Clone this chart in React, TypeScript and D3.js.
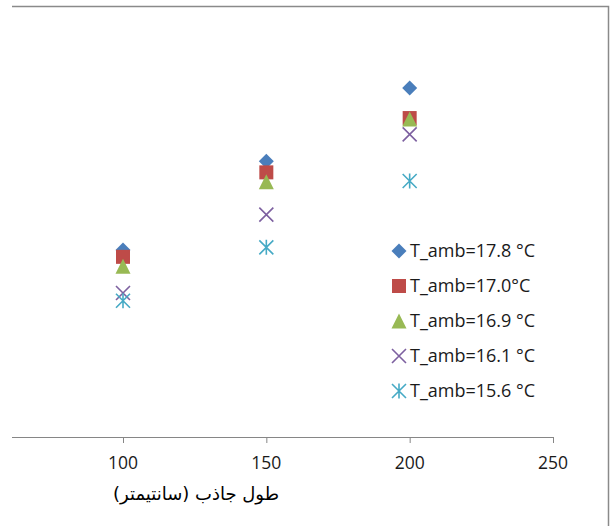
import React from "react";
import * as d3 from "d3";

const lengths = [100, 150, 200];
const xTicks = [100, 150, 200, 250];
const seriesNames = ["T_amb=17.8 °C", "T_amb=17.0°C", "T_amb=16.9 °C", "T_amb=16.1 °C", "T_amb=15.6 °C"];
const s178 = [21.7, 32.0, 40.5];
const s170 = [20.9, 30.7, 37.0];
const s169 = [19.8, 29.6, 36.9];
const s161 = [16.7, 25.8, 35.1];
const s156 = [15.8, 22.0, 29.7];
const seriesValues = [s178, s170, s169, s161, s156];
const colors = ["#4A7EBB", "#BE4B48", "#98B954", "#7D60A0", "#46AAC5"];
const shapes = ["diamond", "square", "triangle", "x", "star"];
const xTitle = "طول جاذب (سانتیمتر)";

function Marker({ shape, color, x, y }: { shape: string; color: string; x: number; y: number }) {
  if (shape === "diamond") {
    const r = 7.5;
    return <path d={`M${x},${y - r}L${x + r},${y}L${x},${y + r}L${x - r},${y}Z`} fill={color} />;
  }
  if (shape === "square") {
    const h = 7;
    return <rect x={x - h} y={y - h} width={2 * h} height={2 * h} fill={color} />;
  }
  if (shape === "triangle") {
    const h = 7.5;
    return <path d={`M${x},${y - h}L${x + h},${y + h}L${x - h},${y + h}Z`} fill={color} />;
  }
  if (shape === "x") {
    const h = 7;
    return (
      <path d={`M${x - h},${y - h}L${x + h},${y + h}M${x + h},${y - h}L${x - h},${y + h}`} stroke={color} strokeWidth={1.6} fill="none" />
    );
  }
  const h = 7;
  return (
    <path
      d={`M${x - h},${y - h}L${x + h},${y + h}M${x + h},${y - h}L${x - h},${y + h}M${x},${y - h - 0.5}L${x},${y + h + 0.5}`}
      stroke={color}
      strokeWidth={1.6}
      fill="none"
    />
  );
}

export default function App() {
  const W = 610;
  const H = 526;
  const axisY = 437;
  const x = d3.scaleLinear().domain([100, 250]).range([123, 553]);
  const y = d3.scaleLinear().domain([0, 50]).range([axisY, 6]);
  const font = "'Open Sans', sans-serif";
  const legendX = 399;
  const legendY0 = 251;
  const legendStep = 35;

  return (
    <svg width={W} height={H} style={{ position: "absolute", left: 0, top: 0, background: "#fff" }}>
      <rect x={0} y={0} width={W} height={H} fill="#fff" />
      {/* frame */}
      <path d={`M12,6.5H608.5V${H}`} stroke="#8a8a8a" strokeWidth={1.5} fill="none" />
      {/* x axis */}
      <line x1={12} x2={x(250)} y1={axisY + 0.5} y2={axisY + 0.5} stroke="#868686" strokeWidth={1} />
      {xTicks.map((t) => (
        <g key={t}>
          <line x1={x(t) + 0.5} x2={x(t) + 0.5} y1={axisY} y2={axisY + 6} stroke="#868686" />
          <text x={x(t)} y={469} textAnchor="middle" fontFamily={font} fontSize={17.5} fill="#1a1a1a">
            {t}
          </text>
        </g>
      ))}
      <text x={196} y={500} textAnchor="middle" direction="rtl" fontFamily="'DejaVu Sans', sans-serif" fontSize={18} fill="#000">
        {xTitle}
      </text>
      {/* points */}
      {seriesValues.map((vals, si) =>
        vals.map((v, i) => <Marker key={`${si}-${i}`} shape={shapes[si]} color={colors[si]} x={x(lengths[i])} y={y(v)} />)
      )}
      {/* legend */}
      {seriesNames.map((name, i) => (
        <g key={name}>
          <Marker shape={shapes[i]} color={colors[i]} x={legendX} y={legendY0 + i * legendStep} />
          <text x={410} y={legendY0 + i * legendStep + 6} fontFamily={font} fontSize={18} fill="#1a1a1a">
            {name}
          </text>
        </g>
      ))}
    </svg>
  );
}
